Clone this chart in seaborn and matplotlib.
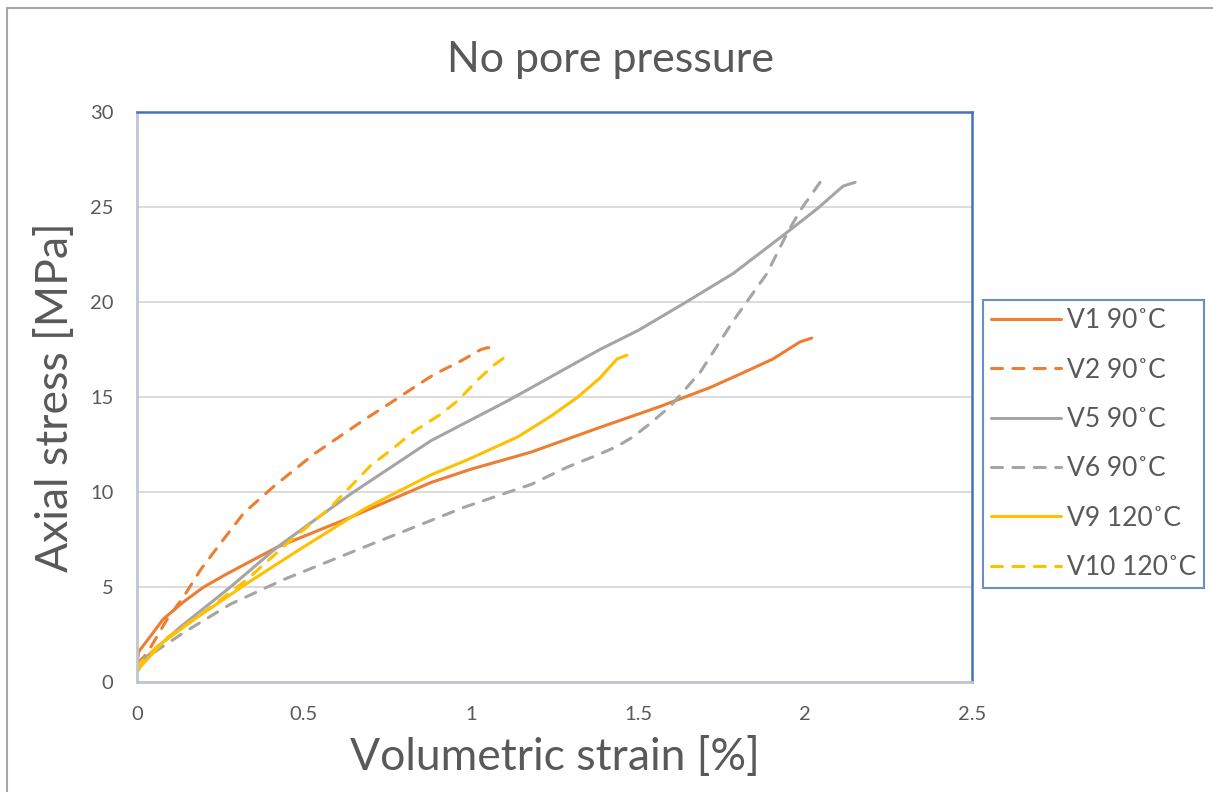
import matplotlib
matplotlib.use("Agg")
import matplotlib.pyplot as plt
from matplotlib.lines import Line2D
import seaborn as sns
import pandas as pd

# ---- data ----
v1_x = [0, 0.005, 0.04, 0.078, 0.138, 0.2, 0.27, 0.42, 0.63, 0.88, 1.0, 1.18, 1.386, 1.566, 1.716, 1.805, 1.904, 1.985, 2.02]
v1_y = [1.0, 1.6, 2.4, 3.3, 4.2, 5.0, 5.7, 7.1, 8.6, 10.5, 11.2, 12.1, 13.4, 14.5, 15.5, 16.2, 17.0, 17.9, 18.1]

v2_x = [0, 0.02, 0.04, 0.09, 0.14, 0.19, 0.25, 0.32, 0.41, 0.53, 0.68, 0.76, 0.82, 0.89, 0.96, 1.03, 1.05, 1.065]
v2_y = [1.0, 1.3, 1.8, 3.3, 4.5, 5.9, 7.3, 8.9, 10.3, 12.0, 13.8, 14.7, 15.4, 16.2, 16.8, 17.5, 17.6, 17.55]

v5_x = [0, 0.02, 0.13, 0.28, 0.42, 0.53, 0.64, 0.88, 1.11, 1.386, 1.5, 1.635, 1.785, 1.934, 2.036, 2.114, 2.15]
v5_y = [0.9, 1.2, 2.9, 5.0, 7.1, 8.5, 9.9, 12.7, 14.8, 17.5, 18.5, 19.9, 21.5, 23.5, 24.9, 26.1, 26.3]

v6_x = [0, 0.02, 0.14, 0.28, 0.44, 0.68, 0.98, 1.18, 1.287, 1.386, 1.437, 1.485, 1.536, 1.596, 1.686, 1.785, 1.886, 1.946, 1.985, 2.045]
v6_y = [0.9, 1.2, 2.6, 4.1, 5.4, 7.1, 9.2, 10.4, 11.3, 12.0, 12.4, 12.9, 13.6, 14.5, 16.3, 19.0, 21.5, 23.6, 24.8, 26.3]

v9_x = [0, 0.01, 0.078, 0.18, 0.33, 0.48, 0.58, 0.68, 0.79, 0.88, 0.99, 1.14, 1.24, 1.32, 1.386, 1.437, 1.467]
v9_y = [0.5, 0.8, 2.1, 3.4, 5.2, 6.9, 8.0, 9.1, 10.1, 10.9, 11.7, 12.9, 14.0, 15.0, 16.0, 17.0, 17.2]

v10_x = [0, 0.01, 0.08, 0.21, 0.33, 0.45, 0.58, 0.64, 0.70, 0.76, 0.83, 0.91, 0.96, 1.02, 1.07, 1.11]
v10_y = [0.7, 1.0, 2.2, 3.8, 5.4, 7.3, 9.2, 10.3, 11.4, 12.2, 13.2, 14.1, 14.8, 15.9, 16.7, 17.2]

labels = ["V1 90˚C", "V2 90˚C", "V5 90˚C", "V6 90˚C", "V9 120˚C", "V10 120˚C"]
series_x = [v1_x, v2_x, v5_x, v6_x, v9_x, v10_x]
series_y = [v1_y, v2_y, v5_y, v6_y, v9_y, v10_y]
colors = ["#ED7D31", "#ED7D31", "#A5A5A5", "#A5A5A5", "#FFC000", "#FFC000"]
dashed = [False, True, False, True, False, True]

x_ticks = [0, 0.5, 1, 1.5, 2, 2.5]
x_tick_labels = ["0", "0.5", "1", "1.5", "2", "2.5"]
y_ticks = [0, 5, 10, 15, 20, 25, 30]

# ---- style ----
sns.set_theme(style="white")
plt.rcParams["font.family"] = ["Lato", "DejaVu Sans"]

W, H = 1213, 792
fig = plt.figure(figsize=(W / 100, H / 100), dpi=100)
ax = fig.add_axes([137 / W, 1 - 682 / H, (972 - 137) / W, (682 - 112) / H])

txt = "#595959"
lw = 2.2
for xs, ys, c, d, lab in zip(series_x, series_y, colors, dashed, labels):
    df = pd.DataFrame({"x": xs, "y": ys})
    sns.lineplot(data=df, x="x", y="y", ax=ax, color=c, linewidth=lw,
                 sort=False, estimator=None, label=lab,
                 linestyle=(0, (3.6, 3.4)) if d else "-",
                 dash_capstyle="round", solid_capstyle="round")

ax.set_xlim(0, 2.5)
ax.set_ylim(0, 30)
ax.set_xticks(x_ticks)
ax.set_xticklabels(x_tick_labels)
ax.set_yticks(y_ticks)
ax.yaxis.grid(True, color="#D9D9D9", linewidth=1.3)
ax.xaxis.grid(False)
ax.set_axisbelow(True)
ax.tick_params(axis="both", length=0, labelsize=14.5, labelcolor=txt)
ax.tick_params(axis="x", pad=17)
ax.tick_params(axis="y", pad=17)

for s in ["top", "right"]:
    ax.spines[s].set_color("#4472C4")
    ax.spines[s].set_linewidth(1.8)
for s in ["left", "bottom"]:
    ax.spines[s].set_color("#BFC5D3")
    ax.spines[s].set_linewidth(2.0)

ax.set_xlabel("Volumetric strain [%]", fontsize=32, color=txt, labelpad=10)
ax.set_ylabel("Axial stress [MPa]", fontsize=32, color=txt, labelpad=10)
fig.text(0.5035, 1 - 60 / H, "No pore pressure", fontsize=31, color=txt,
         ha="center", va="center")

ax.get_legend().remove()
handles, labs = ax.get_legend_handles_labels()
leg = fig.legend(handles, labs, loc="upper left",
                 bbox_to_anchor=(983 / W, 1 - 300 / H),
                 bbox_transform=fig.transFigure, borderaxespad=0,
                 fontsize=19, frameon=True, fancybox=False,
                 handlelength=2.65, handletextpad=0.2, labelspacing=0.92,
                 borderpad=0.32)
leg.get_frame().set_edgecolor("#4472C4")
leg.get_frame().set_linewidth(1.5)
for t in leg.get_texts():
    t.set_color(txt)

# outer chart border (left and top visible)
fig.add_artist(Line2D([7 / W, 7 / W], [0, 1 - 8 / H], color="#A6A6A6", linewidth=1.5))
fig.add_artist(Line2D([7 / W, 1], [1 - 8 / H, 1 - 8 / H], color="#A6A6A6", linewidth=1.5))

fig.savefig("out.png", dpi=100)
